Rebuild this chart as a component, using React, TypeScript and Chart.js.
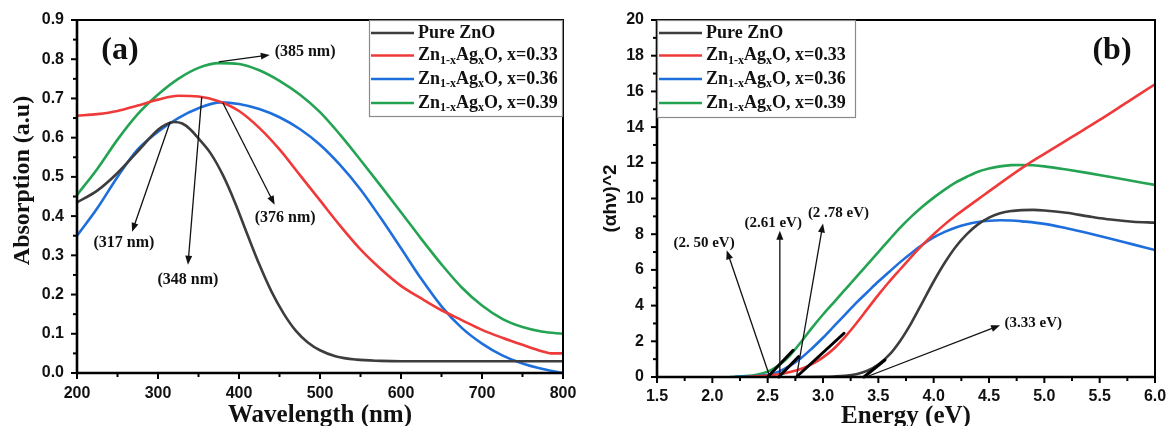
import React, { useEffect, useRef } from 'react';
import { Chart, registerables } from 'chart.js';

Chart.register(...registerables);

// ---------------- Panel (a): absorption spectra ----------------
const absPureX = [200, 225, 250, 275, 300, 310, 320, 330, 340, 350, 365, 380, 395, 410, 425, 440, 455, 470, 485, 500, 520, 545, 575, 600, 700, 800];
const absPureY = [0.435, 0.465, 0.51, 0.565, 0.62, 0.634, 0.64, 0.636, 0.621, 0.598, 0.56, 0.505, 0.435, 0.355, 0.277, 0.208, 0.152, 0.108, 0.078, 0.058, 0.042, 0.034, 0.031, 0.03, 0.03, 0.03];

const abs033X = [200, 225, 250, 275, 300, 325, 350, 375, 400, 425, 450, 475, 500, 525, 550, 575, 600, 625, 650, 675, 700, 725, 750, 775, 785, 800];
const abs033Y = [0.656, 0.66, 0.668, 0.682, 0.697, 0.707, 0.705, 0.693, 0.668, 0.625, 0.57, 0.505, 0.44, 0.375, 0.315, 0.265, 0.222, 0.19, 0.16, 0.135, 0.11, 0.09, 0.072, 0.055, 0.05, 0.05];

const abs036X = [200, 225, 250, 275, 300, 325, 350, 377, 400, 425, 450, 475, 500, 525, 550, 575, 600, 625, 650, 675, 700, 725, 750, 775, 800];
const abs036Y = [0.35, 0.42, 0.5, 0.57, 0.615, 0.65, 0.675, 0.69, 0.686, 0.673, 0.652, 0.622, 0.582, 0.53, 0.468, 0.395, 0.318, 0.24, 0.17, 0.115, 0.075, 0.045, 0.024, 0.01, 0.0];

const abs039X = [200, 225, 250, 275, 300, 325, 350, 375, 400, 425, 450, 475, 500, 525, 550, 575, 600, 625, 650, 675, 700, 725, 750, 775, 800];
const abs039Y = [0.454, 0.52, 0.595, 0.66, 0.71, 0.75, 0.778, 0.79, 0.788, 0.772, 0.745, 0.71, 0.665, 0.607, 0.543, 0.477, 0.41, 0.342, 0.277, 0.218, 0.172, 0.138, 0.117, 0.105, 0.1];

// peak annotations (data units)
const absPeakLabels = ['(385 nm)', '(376 nm)', '(348 nm)', '(317 nm)'];
const absArrowFromX = [375, 380, 354, 315];
const absArrowFromY = [0.793, 0.689, 0.704, 0.64];
const absArrowToX = [438, 444, 337, 268];
const absArrowToY = [0.811, 0.429, 0.276, 0.36];
const absLabelX = [444, 457, 337, 258];
const absLabelY = [0.819, 0.395, 0.237, 0.332];
const absLabelAlign = ['left', 'center', 'center', 'center'];

// ---------------- Panel (b): Tauc plot ----------------
const taucPureX = [2.8, 3.0, 3.1, 3.2, 3.3, 3.4, 3.5, 3.6, 3.7, 3.8, 3.9, 4.0, 4.1, 4.2, 4.3, 4.4, 4.5, 4.6, 4.7, 4.8, 4.9, 5.0, 5.2, 5.4, 5.6, 5.8, 6.0];
const taucPureY = [0, 0.01, 0.03, 0.07, 0.16, 0.35, 0.7, 1.25, 2.05, 3.05, 4.2, 5.35, 6.4, 7.3, 8.0, 8.55, 8.93, 9.17, 9.3, 9.35, 9.36, 9.33, 9.2, 9.0, 8.82, 8.7, 8.65];

const tauc033X = [2.3, 2.4, 2.5, 2.6, 2.7, 2.8, 2.9, 3.0, 3.1, 3.2, 3.3, 3.4, 3.5, 3.6, 3.7, 3.8, 3.9, 4.0, 4.1, 4.2, 4.3, 4.4, 4.6, 4.84, 5.0, 5.25, 5.5, 5.75, 6.0];
const tauc033Y = [0, 0.04, 0.08, 0.15, 0.28, 0.45, 0.72, 1.1, 1.6, 2.25, 3.0, 3.8, 4.6, 5.35, 6.05, 6.75, 7.4, 8.0, 8.55, 9.05, 9.5, 9.95, 10.85, 11.88, 12.5, 13.45, 14.4, 15.4, 16.4];

const tauc036X = [2.2, 2.3, 2.4, 2.5, 2.6, 2.7, 2.8, 2.9, 3.0, 3.1, 3.2, 3.3, 3.4, 3.5, 3.6, 3.7, 3.8, 3.9, 4.0, 4.1, 4.2, 4.3, 4.4, 4.5, 4.6, 4.7, 4.8, 5.0, 5.2, 5.4, 5.6, 5.8, 6.0];
const tauc036Y = [0, 0.02, 0.05, 0.12, 0.3, 0.62, 1.05, 1.6, 2.2, 2.85, 3.5, 4.15, 4.75, 5.35, 5.9, 6.45, 6.95, 7.42, 7.82, 8.13, 8.38, 8.56, 8.68, 8.75, 8.78, 8.77, 8.72, 8.58, 8.33, 8.05, 7.75, 7.43, 7.11];

const tauc039X = [2.16, 2.3, 2.4, 2.5, 2.6, 2.7, 2.8, 2.9, 3.0, 3.1, 3.2, 3.3, 3.4, 3.5, 3.6, 3.7, 3.8, 3.9, 4.0, 4.1, 4.2, 4.3, 4.4, 4.5, 4.6, 4.7, 4.8, 4.9, 5.0, 5.2, 5.4, 5.6, 5.8, 6.0];
const tauc039Y = [0, 0.05, 0.13, 0.3, 0.65, 1.2, 1.95, 2.75, 3.5, 4.2, 4.9, 5.6, 6.3, 7.0, 7.7, 8.38, 9.0, 9.55, 10.05, 10.5, 10.9, 11.22, 11.5, 11.68, 11.8, 11.87, 11.88, 11.86, 11.8, 11.62, 11.42, 11.2, 10.98, 10.76];

// linear-fit (tangent) segments for pure, 0.33, 0.36, 0.39
const tangentX0 = [3.37, 2.76, 2.6, 2.5];
const tangentY0 = [0, 0, 0, 0];
const tangentX1 = [3.56, 3.19, 2.78, 2.73];
const tangentY1 = [0.95, 2.45, 1.14, 1.5];

// band-gap annotations
const gapLabels = ['(2. 50 eV)', '(2.61 eV)', '(2 .78 eV)', '(3.33 eV)'];
const gapArrowFromX = [2.52, 2.61, 2.76, 3.39];
const gapArrowFromY = [0, 0, 0, 0];
const gapArrowToX = [2.13, 2.61, 3.0, 4.6];
const gapArrowToY = [7.1, 8.2, 8.6, 2.9];
const gapLabelX = [1.925, 2.55, 3.14, 4.64];
const gapLabelY = [7.5, 8.6, 9.2, 3.0];
const gapLabelAlign = ['center', 'center', 'center', 'left'];

// series
const seriesLabels = ['Pure ZnO', 'Zn_{1-x}Ag_{x}O, x=0.33', 'Zn_{1-x}Ag_{x}O, x=0.36', 'Zn_{1-x}Ag_{x}O, x=0.39'];
const seriesColors = ['#3d3d3d', '#f03a3a', '#1e6fdc', '#24a453'];

const SERIF = '"Liberation Serif", "Times New Roman", serif';
const SANS = '"Liberation Sans", Arial, sans-serif';

function pts(xs: number[], ys: number[]) {
  return xs.map((x, i) => ({ x, y: ys[i] }));
}

function plainLabel(s: string) {
  return s.replace(/_\{([^}]*)\}/g, '$1');
}

function drawRichText(ctx: CanvasRenderingContext2D, text: string, x: number, y: number, size: number, subSize: number) {
  const parts: { t: string; sub: boolean }[] = [];
  const re = /_\{([^}]*)\}/g;
  let last = 0;
  let m: RegExpExecArray | null;
  while ((m = re.exec(text))) {
    if (m.index > last) parts.push({ t: text.slice(last, m.index), sub: false });
    parts.push({ t: m[1], sub: true });
    last = m.index + m[0].length;
  }
  if (last < text.length) parts.push({ t: text.slice(last), sub: false });
  let cx = x;
  for (const p of parts) {
    ctx.font = `bold ${p.sub ? subSize : size}px ${SERIF}`;
    ctx.fillText(p.t, cx, p.sub ? y + size * 0.3 : y);
    cx += ctx.measureText(p.t).width;
  }
}

function arrow(ctx: CanvasRenderingContext2D, x0: number, y0: number, x1: number, y1: number) {
  const ang = Math.atan2(y1 - y0, x1 - x0);
  const hl = 9, hw = 3.5;
  ctx.beginPath();
  ctx.moveTo(x0, y0);
  ctx.lineTo(x1 - Math.cos(ang) * hl * 0.8, y1 - Math.sin(ang) * hl * 0.8);
  ctx.stroke();
  ctx.beginPath();
  ctx.moveTo(x1, y1);
  ctx.lineTo(x1 - Math.cos(ang) * hl + Math.sin(ang) * hw, y1 - Math.sin(ang) * hl - Math.cos(ang) * hw);
  ctx.lineTo(x1 - Math.cos(ang) * hl - Math.sin(ang) * hw, y1 - Math.sin(ang) * hl + Math.cos(ang) * hw);
  ctx.closePath();
  ctx.fill();
}

function drawFrame(chart: any) {
  const { ctx, chartArea: ca, scales } = chart;
  const x = scales.x, y = scales.y;
  ctx.save();
  ctx.strokeStyle = '#000';
  ctx.lineWidth = 2;
  ctx.strokeRect(ca.left, ca.top, ca.right - ca.left, ca.bottom - ca.top);
  ctx.lineWidth = 2.6;
  ctx.beginPath();
  ctx.moveTo(ca.left, ca.top - 1);
  ctx.lineTo(ca.left, ca.bottom);
  ctx.lineTo(ca.right + 1, ca.bottom);
  ctx.stroke();
  ctx.lineWidth = 2;
  const xt = x.ticks.map((t: any) => t.value);
  const yt = y.ticks.map((t: any) => t.value);
  const tick = (vals: number[], len: number, horiz: boolean) => {
    for (const v of vals) {
      ctx.beginPath();
      if (horiz) {
        const p = x.getPixelForValue(v);
        ctx.moveTo(p, ca.bottom);
        ctx.lineTo(p, ca.bottom + len);
      } else {
        const p = y.getPixelForValue(v);
        ctx.moveTo(ca.left, p);
        ctx.lineTo(ca.left - len, p);
      }
      ctx.stroke();
    }
  };
  const mids = (vals: number[]) => vals.slice(1).map((v, i) => (v + vals[i]) / 2);
  tick(xt, 6, true);
  tick(mids(xt), 4, true);
  tick(yt, 6, false);
  tick(mids(yt), 4, false);
  ctx.restore();
}

function drawLegend(chart: any, left: number, top: number, w: number, h: number) {
  const { ctx } = chart;
  ctx.save();
  ctx.fillStyle = '#fff';
  ctx.fillRect(left, top, w, h);
  ctx.strokeStyle = '#8a8a8a';
  ctx.lineWidth = 1.2;
  ctx.strokeRect(left + 0.5, top + 0.5, w - 1, h - 1);
  const rows = [13, 35.5, 59, 83];
  seriesLabels.forEach((lab, i) => {
    const yy = top + rows[i];
    ctx.strokeStyle = seriesColors[i];
    ctx.lineWidth = 2.6;
    ctx.beginPath();
    ctx.moveTo(left + 2, yy);
    ctx.lineTo(left + 45, yy);
    ctx.stroke();
    ctx.fillStyle = '#111';
    ctx.textBaseline = 'middle';
    ctx.textAlign = 'left';
    drawRichText(ctx, lab, left + 49, yy, 18, 12);
  });
  ctx.restore();
}

function makeDatasets(xsList: number[][], ysList: number[][]) {
  return xsList.map((xs, i) => ({
    label: plainLabel(seriesLabels[i]),
    data: pts(xs, ysList[i]),
    borderColor: seriesColors[i],
    backgroundColor: seriesColors[i],
    borderWidth: 2.6,
    pointRadius: 0,
    fill: false,
    cubicInterpolationMode: 'monotone' as const,
  }));
}

const tickFont = { family: SANS, size: 16, weight: 'bold' as const };

export default function App() {
  const refA = useRef<HTMLCanvasElement>(null);
  const refB = useRef<HTMLCanvasElement>(null);

  useEffect(() => {
    const decorA = {
      id: 'decorA',
      afterDatasetsDraw(chart: any) {
        const { ctx, chartArea: ca, scales: { x, y } } = chart;
        ctx.save();
        ctx.strokeStyle = '#111';
        ctx.fillStyle = '#111';
        ctx.lineWidth = 1.3;
        absPeakLabels.forEach((lab, i) => {
          arrow(ctx, x.getPixelForValue(absArrowFromX[i]), y.getPixelForValue(absArrowFromY[i]),
            x.getPixelForValue(absArrowToX[i]), y.getPixelForValue(absArrowToY[i]));
          ctx.font = `bold 16px ${SERIF}`;
          ctx.textAlign = absLabelAlign[i] as CanvasTextAlign;
          ctx.textBaseline = 'middle';
          ctx.fillText(lab, x.getPixelForValue(absLabelX[i]), y.getPixelForValue(absLabelY[i]));
        });
        ctx.restore();
        drawFrame(chart);
        drawLegend(chart, ca.right - 194, ca.top, 194, 97);
        ctx.save();
        ctx.fillStyle = '#111';
        ctx.font = `bold 32px ${SERIF}`;
        ctx.textAlign = 'center';
        ctx.textBaseline = 'middle';
        ctx.fillText('(a)', ca.left + 43, ca.top + 31);
        // y axis title
        ctx.translate(23, (ca.top + ca.bottom) / 2 - 16);
        ctx.rotate(-Math.PI / 2);
        ctx.font = `bold 24px ${SERIF}`;
        ctx.fillText('Absorption (a.u)', 0, 0);
        ctx.restore();
      },
    };

    const decorB = {
      id: 'decorB',
      afterDatasetsDraw(chart: any) {
        const { ctx, chartArea: ca, scales: { x, y } } = chart;
        ctx.save();
        ctx.strokeStyle = '#000';
        ctx.lineWidth = 3;
        ctx.lineCap = 'round';
        tangentX0.forEach((_, i) => {
          ctx.beginPath();
          ctx.moveTo(x.getPixelForValue(tangentX0[i]), y.getPixelForValue(tangentY0[i]));
          ctx.lineTo(x.getPixelForValue(tangentX1[i]), y.getPixelForValue(tangentY1[i]));
          ctx.stroke();
        });
        ctx.lineCap = 'butt';
        ctx.strokeStyle = '#111';
        ctx.fillStyle = '#111';
        ctx.lineWidth = 1.3;
        gapLabels.forEach((lab, i) => {
          arrow(ctx, x.getPixelForValue(gapArrowFromX[i]), y.getPixelForValue(gapArrowFromY[i]),
            x.getPixelForValue(gapArrowToX[i]), y.getPixelForValue(gapArrowToY[i]));
          ctx.font = `bold 15px ${SERIF}`;
          ctx.textAlign = gapLabelAlign[i] as CanvasTextAlign;
          ctx.textBaseline = 'middle';
          ctx.fillText(lab, x.getPixelForValue(gapLabelX[i]), y.getPixelForValue(gapLabelY[i]));
        });
        ctx.restore();
        drawFrame(chart);
        drawLegend(chart, ca.left, ca.top, 199, 98);
        ctx.save();
        ctx.fillStyle = '#111';
        ctx.font = `bold 32px ${SERIF}`;
        ctx.textAlign = 'center';
        ctx.textBaseline = 'middle';
        ctx.fillText('(b)', ca.right - 43, ca.top + 31);
        ctx.restore();
      },
    };

    const fitX = (h: number) => (s: any) => { s.height = h; s.paddingLeft = 0; s.paddingRight = 0; };
    const fitY = (w: number) => (s: any) => { s.width = w; s.paddingTop = 0; s.paddingBottom = 0; };

    const chartA = new Chart(refA.current!, {
      type: 'line',
      data: {
        datasets: makeDatasets([absPureX, abs033X, abs036X, abs039X], [absPureY, abs033Y, abs036Y, abs039Y]),
      },
      options: {
        animation: false,
        responsive: false,
        maintainAspectRatio: false,
        layout: { padding: { left: 0, right: 17, top: 20, bottom: 0 } },
        plugins: { legend: { display: false }, tooltip: { enabled: false } },
        scales: {
          x: {
            type: 'linear',
            min: 200,
            max: 800,
            ticks: { stepSize: 100, padding: 11, color: '#111', font: tickFont, callback: (v: any) => String(v) },
            grid: { display: false, drawTicks: false },
            border: { display: false },
            title: { display: true, text: 'Wavelength (nm)', color: '#111', font: { family: SERIF, size: 25, weight: 'bold' }, padding: { top: 0, bottom: -5 } },
            afterFit: fitX(53),
          },
          y: {
            type: 'linear',
            min: 0,
            max: 0.9,
            ticks: { stepSize: 0.1, padding: 13, color: '#111', font: tickFont, callback: (v: any) => Number(v).toFixed(1) },
            grid: { display: false, drawTicks: false },
            border: { display: false },
            afterFit: fitY(77),
          },
        },
      },
      plugins: [decorA],
    } as any);

    const chartB = new Chart(refB.current!, {
      type: 'line',
      data: {
        datasets: makeDatasets([taucPureX, tauc033X, tauc036X, tauc039X], [taucPureY, tauc033Y, tauc036Y, tauc039Y]),
      },
      options: {
        animation: false,
        responsive: false,
        maintainAspectRatio: false,
        layout: { padding: { left: 0, right: 14, top: 20, bottom: 0 } },
        plugins: { legend: { display: false }, tooltip: { enabled: false } },
        scales: {
          x: {
            type: 'linear',
            min: 1.5,
            max: 6.0,
            ticks: { stepSize: 0.5, padding: 10, color: '#111', font: tickFont, callback: (v: any) => Number(v).toFixed(1) },
            grid: { display: false, drawTicks: false },
            border: { display: false },
            title: { display: true, text: 'Energy (eV)', color: '#111', font: { family: SERIF, size: 25, weight: 'bold' }, padding: { top: 0, bottom: -6 } },
            afterFit: fitX(49),
          },
          y: {
            type: 'linear',
            min: 0,
            max: 20,
            ticks: { stepSize: 2, padding: 13, color: '#111', font: tickFont, callback: (v: any) => String(v) },
            grid: { display: false, drawTicks: false },
            border: { display: false },
            title: { display: true, text: '(αhν)^2', color: '#111', font: { family: SANS, size: 19, weight: 'bold' }, padding: { top: 19, bottom: 0 } },
            afterFit: fitY(77),
          },
        },
      },
      plugins: [decorB],
    } as any);

    return () => {
      chartA.destroy();
      chartB.destroy();
    };
  }, []);

  return (
    <div style={{ position: 'absolute', left: 0, top: 0, width: 1169, height: 426, background: '#fff', overflow: 'hidden' }}>
      <canvas ref={refA} width={580} height={426} style={{ position: 'absolute', left: 0, top: 0, display: 'block' }} />
      <canvas ref={refB} width={589} height={426} style={{ position: 'absolute', left: 580, top: 0, display: 'block' }} />
    </div>
  );
}
